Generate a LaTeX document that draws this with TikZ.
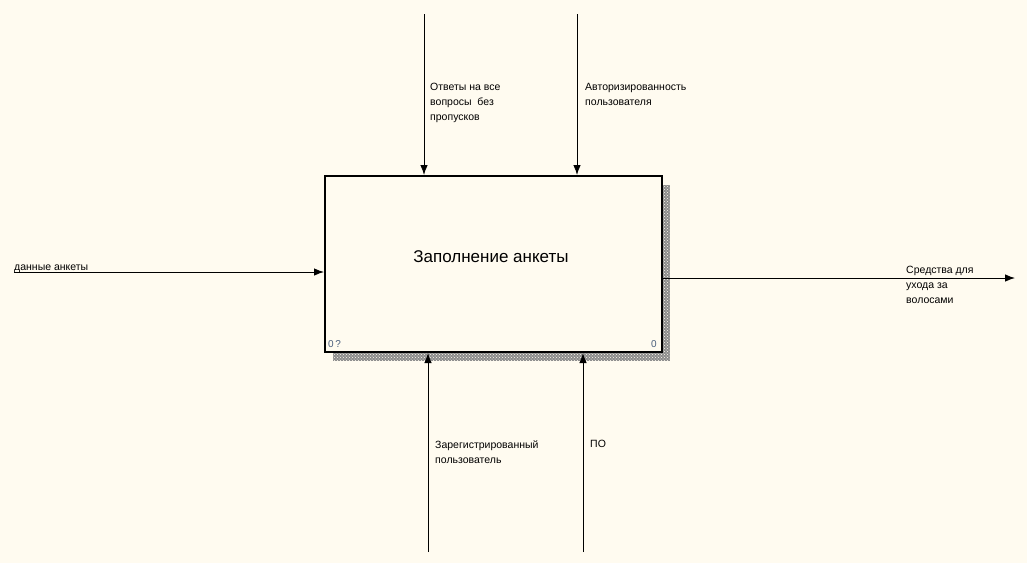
\documentclass[tikz,border=0pt]{standalone}
\usepackage{fontspec}
\setmainfont{Liberation Sans}
\usetikzlibrary{arrows.meta}
\usetikzlibrary{patterns}
\definecolor{paper}{HTML}{FFFBF0}
\definecolor{cornertxt}{HTML}{4A5E7C}
\tikzset{
  flow/.style={line width=0.9pt,-{Latex[length=10pt,width=7.5pt]}},
  lbl/.style={font=\fontsize{10.5}{15}\selectfont,align=left,inner sep=0pt,anchor=north west},
  corner/.style={font=\fontsize{10}{10}\selectfont,text=cornertxt,inner sep=0pt},
}

\begin{document}
\begin{tikzpicture}[x=1pt,y=-1pt]
            \useasboundingbox[fill=paper](0,0)rectangle(1027,563);

            % shadow
            \fill[black!45](661,185)rectangle(670,361);
            \fill[black!45](333,351)rectangle(670,361);
            \fill[pattern=crosshatch dots,pattern color=paper](333,185)rectangle(670,361);

            \node[draw,line width=2pt,fill=paper,minimum width=337pt,minimum height=176pt,anchor=north west,inner sep=0pt](box)at(324,175){};
            \node[font=\fontsize{17}{20}\selectfont]at(491,257){Заполнение анкеты};
            \node[corner,anchor=south west]at(328,348){0\,?};
            \node[corner,anchor=south east]at(657,348){0};

            \coordinate (c1) at (424,14);
            \coordinate (c2) at (577,14);
            \coordinate (m1) at (428,552);
            \coordinate (m2) at (583,552);
            \coordinate (in) at (14,272);
            \coordinate (out) at (1015,278);

            % controls
            \draw[flow](c1)--(c1|-box.north);
            \draw[flow](c2)--(c2|-box.north);
            \node[lbl]at(430,83){Ответы на все\\вопросы\ \ без\\пропусков};
            \node[lbl]at(585,83){Авторизированность\\пользователя};

            % mechanisms
            \draw[flow](m1)--(m1|-box.south);
            \draw[flow](m2)--(m2|-box.south);
            \node[lbl]at(435,440){Зарегистрированный\\пользователь};
            \node[lbl]at(590,440){ПО};

            % input and output
            \draw[flow](in)--(in-|box.west);
            \node[lbl,anchor=base west]at(14,270){данные анкеты};
            \draw[flow](box.east|-out)--(out);
            \node[lbl]at(906,266){Средства для\\ухода за\\волосами};
        \end{tikzpicture}
\end{document}
